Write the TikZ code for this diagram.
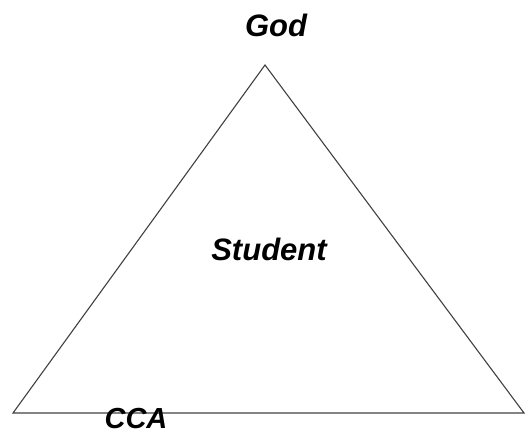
\documentclass[tikz,border=0pt]{standalone}
\usepackage{fontspec}
\setmainfont{Liberation Sans}
\usetikzlibrary{positioning}

\begin{document}
\begin{tikzpicture}[
    x=1pt, y=-1pt,
    rotulo/.style={
        font=\fontsize{31}{31}\selectfont\bfseries\itshape,
        inner sep=0pt,
        anchor=base
    },
    lado/.style={
        draw=black!75,
        line width=1.1pt
    }
]

% Moldura
\useasboundingbox (0,0) rectangle (526,435);

% Vertices
\coordinate (topo) at (265,65);
\coordinate (esq) at (13,413);
\coordinate (dir) at (524,413);

% Triangulo
\draw[lado] (esq) -- (topo) -- (dir) -- cycle;

% Rotulos
\node[rotulo] (deus) at (276,37) {God};
\node[rotulo] (aluno) at (269,260) {Student};
\node[rotulo, font=\fontsize{29}{29}\selectfont\bfseries\itshape] (cca) at (136,428) {CCA};

\end{tikzpicture}
\end{document}
